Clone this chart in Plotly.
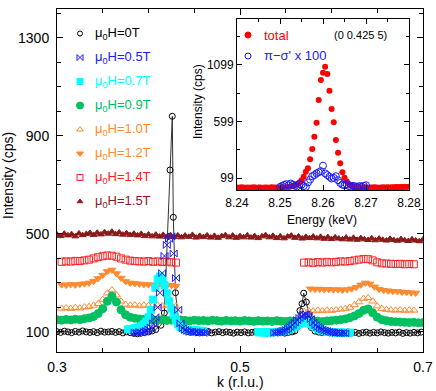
import plotly.graph_objects as go

# ── data: main panel, intensity (cps) vs k (r.l.u.) ──────────────────────────
# each segment is (first k, k step, intensities)

h00_segs = [
    (0.300, 0.004, [101, 98, 103, 100, 97, 102, 99, 104, 100, 98, 101, 97, 103, 99,
                    100, 102, 98, 101, 96, 100, 97, 94, 92, 95, 98, 100, 104, 110]),
]
h00_peak1_k = [0.4135, 0.4173, 0.4235, 0.4260, 0.4271, 0.4295, 0.4330, 0.4370]
h00_peak1 = [127, 177, 761, 980, 568, 260, 140, 112]
h00_mid = (0.441, 0.004, [104, 99, 101, 97, 100, 98, 102, 96, 99, 101, 97, 100, 98, 95, 99,
                          97, 100, 96, 98, 101, 97, 99, 95, 98, 96, 99, 97, 95, 98, 100])
h00_peak2_k = [0.5600, 0.5630, 0.5655, 0.5678, 0.5696, 0.5725, 0.5750, 0.5780]
h00_peak2 = [104, 122, 187, 215, 258, 222, 170, 118]
h00_end = (0.582, 0.004, [103, 99, 97, 100, 96, 98, 95, 99, 97, 100, 96, 98, 94, 97, 99,
                          95, 98, 96, 100, 97, 95, 98, 96, 99, 94, 97, 95, 98, 96, 99])

h05_segs = [
    (0.385, 0.0025, [98, 96, 100, 97, 101, 104, 110, 118, 135, 160, 200, 260, 340, 410, 455,
                     480, 490, 420, 320, 190, 135, 115, 108, 104, 100, 102, 98, 100, 97, 99, 96, 98]),
    (0.5375, 0.0025, [96, 97, 99, 101, 104, 108, 113, 120, 128, 138, 148, 157, 164, 170, 172,
                      165, 152, 138, 127, 120, 114, 110, 106, 103, 101, 99, 98, 96, 97, 95, 96, 94]),
]
h07_segs = [
    (0.3775, 0.0025, [110, 112, 113, 115, 117, 120, 124, 131, 142, 160, 190, 232, 280, 315, 326,
                      318, 292, 258, 225, 195, 170, 148, 130, 120, 114, 111, 109, 108, 107, 106,
                      106, 105, 105, 104]),
    (0.5200, 0.0025, [99, 98, 99, 97, 98, 99, 98, 99, 100, 101, 102, 104, 106, 109, 113, 117, 122,
                      128, 133, 137, 140, 141, 138, 132, 125, 119, 113, 109, 106, 103, 101, 100,
                      99, 98, 98, 97, 98, 97, 97, 96, 97]),
]
h09_segs = [
    (0.300, 0.005, [150, 148, 151, 149, 152, 150, 154, 157, 163, 175, 195, 225, 246, 222, 190,
                    170, 160, 156, 153, 151, 150, 149, 148, 150, 147, 148, 146, 149, 147, 145,
                    148, 146, 147, 145, 148, 146, 144, 147, 145, 146, 144, 147, 145, 143, 146,
                    144, 145, 143, 146, 144, 142, 145, 143, 144, 142, 145, 143, 144, 142, 145,
                    146, 148, 150, 153, 158, 165, 175, 188, 194, 178, 160, 150, 146, 143, 141,
                    140, 139, 138, 139, 137, 138]),
]
h10_segs = [
    (0.305, 0.005, [196, 198, 195, 199, 197, 201, 203, 208, 215, 232, 258, 271, 250, 225, 212,
                    208, 210, 206, 209, 207, 210, 208, 206, 209, 207, 205]),
    (0.570, 0.005, [183, 186, 185, 188, 186, 189, 187, 190, 192, 195, 200, 210, 222, 236, 239,
                    225, 205, 195, 191, 189, 188, 190, 187, 189, 188]),
]
h12_segs = [
    (0.305, 0.005, [293, 291, 294, 292, 295, 297, 300, 307, 318, 332, 347, 353, 338, 320, 306,
                    300, 298, 296, 294, 293, 292, 290, 291, 289, 290, 287]),
    (0.577, 0.005, [276, 274, 275, 273, 274, 272, 273, 271, 273, 276, 282, 292, 300, 296, 284,
                    274, 270, 268, 266, 265, 263, 262, 260, 259]),
]
h14_segs = [
    (0.305, 0.005, [386, 388, 387, 390, 389, 392, 395, 400, 405, 409, 412, 411, 407, 400, 395,
                    391, 389, 388, 387, 389, 386, 388, 385, 387, 384, 383]),
    (0.570, 0.005, [383, 384, 382, 385, 383, 386, 384, 386, 388, 387, 389, 392, 395, 398, 397,
                    392, 384, 380, 379, 378, 377, 378, 376, 377, 376]),
]
h15_segs = [
    (0.300, 0.004, [497, 491, 501, 494, 499, 490, 502, 495, 500, 504, 496,
                    505, 498, 507, 501, 509, 499, 506, 497, 503, 496,
                    501, 494, 500, 491, 498, 490, 497, 489, 496, 488,
                    495, 487, 494, 486, 493, 488, 496, 485, 492, 487,
                    494, 485, 492, 484, 491, 495, 486, 493, 484, 491,
                    486, 494, 485, 491, 483, 490, 495, 486, 492, 483,
                    490, 482, 489, 493, 484, 490, 481, 488, 483, 489,
                    482, 488, 480, 487, 479, 486, 481, 478, 485, 477,
                    484, 476, 483, 478, 475, 482, 474, 481, 476, 473,
                    480, 475, 472, 479, 474, 471, 478, 473, 470, 477]),
]

# ── data: inset, intensity vs energy at (0 0.425 5) ──────────────────────────
total_e0, total_step = 8.2400, 0.0005
total = [16, 14, 17, 15, 13, 16, 14, 15, 17, 14, 16, 15, 13, 16, 15, 14, 17, 15, 16, 14,
         15, 17, 16, 18, 20, 24, 28, 35, 45, 60, 80, 111, 155, 185, 264, 356, 465, 588, 789,
         966, 1031, 1084, 1019, 872, 710, 592, 435, 323, 229, 149, 102, 70, 45, 32, 25, 21,
         19, 17, 16, 15, 17, 14, 16, 15, 17, 16, 14, 16, 18, 15, 17, 16, 18, 17, 19, 18, 20,
         19, 21, 20, 22]
pisig_e0, pisig_step = 8.2500, 0.0005
pisig = [20, 30, 38, 45, 35, 50, 40, 30, 25, 45, 40, 28, 20, 60, 85, 115, 125, 140, 150, 160,
         208, 140, 125, 110, 95, 100, 115, 80, 55, 40, 35, 45, 28, 22, 30, 25, 20, 28, 22, 30, 35]

fields = ["0T", "0.5T", "0.7T", "0.9T", "1.0T", "1.2T", "1.4T", "1.5T"]
colors = ["black", "#1a1aff", "#00ffff", "#00c060", "#ff8a30", "#ff8a30", "#ff2020", "#8b1a1a"]
symbols = ["circle-open", "bowtie-open", "square", "circle", "triangle-up-open",
           "triangle-down", "square-open", "triangle-up"]
sizes = [6, 7, 7, 8, 7, 7, 7, 6]

# ── geometry (pixels) ────────────────────────────────────────────────────────
W, H = 436, 391
L, R, T, B = 57, 423, 9, 352
XR, YR = (0.3, 0.7), (18, 1418)
IXR, IYR = (8.24, 8.28), (-7, 1510)
IL, IR, IT, IB = 237, 409, 18.5, 190


def px(x):
    return (x - L) / (R - L)


def py(y):
    return (B - y) / (B - T)


def grid(start, step, values):
    return [round(start + i * step, 5) for i in range(len(values))]


def join(segs):
    xs, ys = [], []
    for start, step, vals in segs:
        if xs:
            xs.append(None)
            ys.append(None)
        xs += grid(start, step, vals)
        ys += vals
    return xs, ys


font = "Liberation Sans, Arial, sans-serif"
fig = go.Figure()

# 0T scan, one continuous line
k0 = grid(*h00_segs[0]) + h00_peak1_k + grid(*h00_mid) + h00_peak2_k + grid(*h00_end)
i0 = h00_segs[0][2] + h00_peak1 + h00_mid[2] + h00_peak2 + h00_end[2]

series = {
    "0T": (k0, i0),
    "0.5T": join(h05_segs),
    "0.7T": join(h07_segs),
    "0.9T": join(h09_segs),
    "1.0T": join(h10_segs),
    "1.2T": join(h12_segs),
    "1.4T": join(h14_segs),
    "1.5T": join(h15_segs),
}

# draw order: 0T below, then high fields, then 0.9T, 0.7T, 0.5T on top
for idx in [0, 7, 6, 5, 4, 3, 2, 1]:
    name = fields[idx]
    xs, ys = series[name]
    fig.add_trace(go.Scatter(
        x=xs, y=ys, name=name, showlegend=False,
        mode="lines+markers" if idx == 0 else "markers",
        line=dict(color="#333333", width=1),
        marker=dict(symbol=symbols[idx], size=sizes[idx], color=colors[idx],
                    line=dict(width=1, color=colors[idx])),
    ))

# hand-placed legend keys (pixel layout)
leg_x, leg_y0, leg_dy = 80, 33.5, 24
for idx, name in enumerate(fields):
    yc = leg_y0 + idx * leg_dy
    fig.add_trace(go.Scatter(
        x=[XR[0] + px(leg_x) * (XR[1] - XR[0])],
        y=[YR[0] + py(yc) * (YR[1] - YR[0])],
        mode="markers", showlegend=False, hoverinfo="skip",
        marker=dict(symbol=symbols[idx], size=sizes[idx] - 1, color=colors[idx],
                    line=dict(width=1, color=colors[idx])),
    ))
    fig.add_annotation(x=px(93), y=py(yc), xref="paper", yref="paper",
                       text="μ<sub>0</sub>H=" + name, showarrow=False,
                       xanchor="left", yanchor="middle",
                       font=dict(size=13, color=colors[idx], family=font))

# inset
fig.add_trace(go.Scatter(
    x=grid(total_e0, total_step, total), y=total, mode="markers", showlegend=False,
    xaxis="x2", yaxis="y2", marker=dict(symbol="circle", size=6, color="#ff0000"),
))
fig.add_trace(go.Scatter(
    x=grid(pisig_e0, pisig_step, pisig), y=pisig, mode="markers", showlegend=False,
    xaxis="x2", yaxis="y2",
    marker=dict(symbol="circle-open", size=7, color="#1a1aff", line=dict(width=1, color="#1a1aff")),
))


def inset_xy(xp, yp):
    ex = IXR[0] + (xp - IL) / (IR - IL) * (IXR[1] - IXR[0])
    ey = IYR[0] + (IB - yp) / (IB - IT) * (IYR[1] - IYR[0])
    return ex, ey


for yp, sym, col in [(35, "circle", "#ff0000"), (56, "circle-open", "#1a1aff")]:
    ex, ey = inset_xy(248, yp)
    fig.add_trace(go.Scatter(x=[ex], y=[ey], mode="markers", showlegend=False,
                             xaxis="x2", yaxis="y2", hoverinfo="skip",
                             marker=dict(symbol=sym, size=6, color=col, line=dict(width=1, color=col))))

for text, xp, yp, size, col in [
    ("total", 262, 35, 13, "#ff0000"),
    ("π−σ' x 100", 262, 56, 13, "#1a1aff"),
    ("(0 0.425 5)", 332, 35, 11, "black"),
]:
    fig.add_annotation(x=px(xp), y=py(yp), xref="paper", yref="paper", text=text,
                       showarrow=False, xanchor="left", yanchor="middle",
                       font=dict(size=size, color=col, family=font))

# axis titles
for text, xp, yp, size, angle in [
    ("k (r.l.u.)", 240, 382, 14, 0),
    ("Intensity (cps)", 8, 175, 14, -90),
    ("Energy (keV)", 322, 220, 12, 0),
    ("Intensity (cps)", 198, 102, 12, -90),
]:
    fig.add_annotation(x=px(xp), y=py(yp), xref="paper", yref="paper", text=text,
                       showarrow=False, xanchor="center", yanchor="middle", textangle=angle,
                       font=dict(size=size, color="black", family=font))

ax = dict(showline=True, linecolor="black", linewidth=1, mirror="allticks",
          ticks="inside", tickcolor="black", showgrid=False, zeroline=False, automargin=False)

fig.update_layout(
    width=W, height=H,
    margin=dict(l=L, r=W - R, t=T, b=H - B, autoexpand=False),
    paper_bgcolor="white", plot_bgcolor="white",
    font=dict(family=font, color="black"),
    xaxis=dict(**ax, range=list(XR), tick0=0.3, dtick=0.2, ticklen=6,
               tickfont=dict(size=14), ticklabelstandoff=2,
               minor=dict(dtick=0.05, tick0=0.3, ticks="inside", ticklen=4, tickcolor="black")),
    yaxis=dict(**ax, range=list(YR), tick0=100, dtick=400, ticklen=6,
               tickfont=dict(size=14), ticklabelstandoff=4,
               minor=dict(dtick=100, tick0=100, ticks="inside", ticklen=4, tickcolor="black")),
    xaxis2=dict(**ax, domain=[px(IL), px(IR)], anchor="y2", range=list(IXR),
                tick0=8.24, dtick=0.01, ticklen=5, tickfont=dict(size=12), ticklabelstandoff=2,
                minor=dict(dtick=0.005, tick0=8.24, ticks="inside", ticklen=3, tickcolor="black")),
    yaxis2=dict(**ax, domain=[py(IB), py(IT)], anchor="x2", range=list(IYR),
                tick0=99, dtick=500, ticklen=5, tickfont=dict(size=12), ticklabelstandoff=0,
                minor=dict(dtick=250, tick0=99, ticks="inside", ticklen=3, tickcolor="black")),
)

# page body has a default 8px margin; drop it so the figure sits at the window origin
fig.write_html("out.html", config={"displayModeBar": False},
               post_script="document.body.style.margin='0';")
